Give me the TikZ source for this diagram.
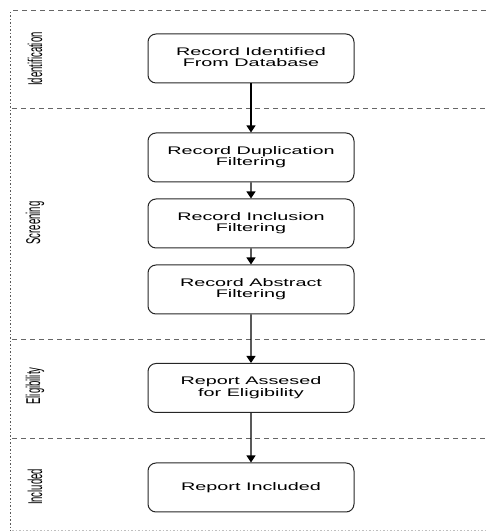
\documentclass[tikz,border=0pt]{standalone}
\usepackage{fontspec}
\setmainfont{Liberation Sans}
\usetikzlibrary{arrows.meta}

\newcommand{\boxtext}[2]{\scalebox{1.8}[1]{\begin{tabular}{@{}c@{}}#1\\#2\end{tabular}}}
\newcommand{\lanetext}[1]{\scalebox{2.1}[1]{\rotatebox{90}{#1}}}

\begin{document}
\begin{tikzpicture}[x=1pt,y=1pt]
			    \tikzstyle{stage}=[draw=black!85,line width=1pt,rounded corners=8pt,minimum width=206pt,minimum height=49pt,inner sep=0pt,font=\fontsize{11}{11.5}\selectfont]
			    \tikzstyle{lane}=[inner sep=0pt,font=\fontsize{9.5}{10}\selectfont]
			    \tikzstyle{lanesep}=[draw=black!60,line width=0.7pt,dash pattern=on 5pt off 4pt]
			    \tikzset{edge from parent/.style={draw,line width=1.1pt,-{Triangle[width=9pt,length=7pt]}}}
			    \useasboundingbox (0,0) rectangle (487,532);
			    % lanes
			    \draw[lanesep] (13,522) -- (487,522);
			    \draw[lanesep] (12,424) -- (487,424);
			    \draw[lanesep] (12,193) -- (487,193);
			    \draw[lanesep] (12,94) -- (487,94);
			    \draw[draw=black!65,line width=0.9pt,dash pattern=on 1.5pt off 2pt] (10,520) -- (10,1);
			    \draw[draw=black!25,line width=0.6pt,dash pattern=on 1.5pt off 2pt] (12,2) -- (487,2);
			    \node[lane] (identification) at (35,473) {\lanetext{Identification}};
			    \node[lane] (screening) at (35,309) {\lanetext{Screening}};
			    \node[lane] (eligibility) at (35,146) {\lanetext{Eligibility}};
			    \node[lane] (included) at (35,45) {\lanetext{Included}};
			    % stages
			    \node[stage] (identified) at (251,473.5) {\boxtext{Record Identified}{From Database}}
			        child [level distance=99pt]
			        {
			        	node[stage] (duplication) {\boxtext{Record Duplication}{Filtering}}
			        	child [level distance=66pt]
			        	{
			        		node[stage] (inclusion) {\boxtext{Record Inclusion}{Filtering}}
			        		child [level distance=66pt]
			        		{
			        			node[stage] (abstract) {\boxtext{Record Abstract}{Filtering}}
			        			child [level distance=98.5pt]
			        			{
			        				node[stage] (assessed) {\boxtext{Report Assesed}{for Eligibility}}
			        				child [level distance=99.5pt]
			        				{
			        					node[stage] (reportincluded) {\scalebox{1.8}[1]{Report Included}}
			        				}
			        			}
			        		}
			        	}
			        };
\end{tikzpicture}
\end{document}
